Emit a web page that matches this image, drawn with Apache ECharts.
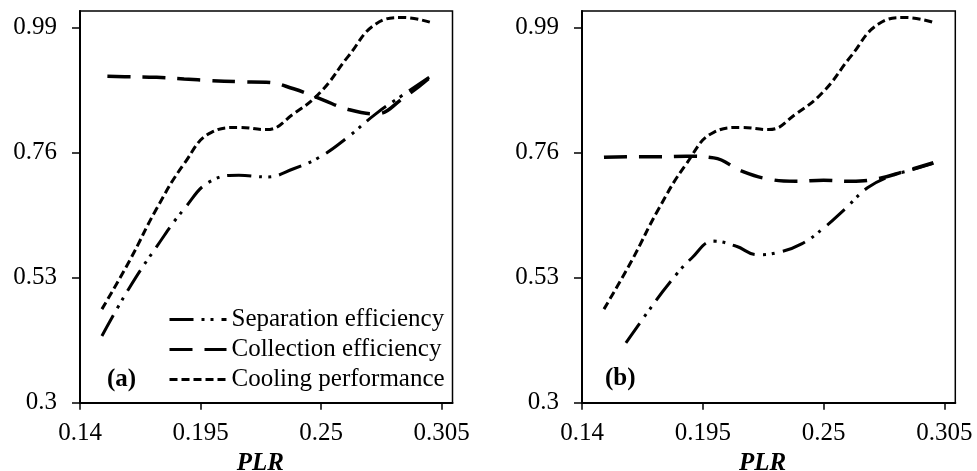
<!DOCTYPE html>
<html>
<head>
<meta charset="utf-8">
<script src="https://cdn.jsdelivr.net/npm/echarts@6/dist/echarts.min.js"></script>
<style>
  html, body { margin: 0; padding: 0; background: #fff; }
  #chart { width: 977px; height: 471px; }
</style>
</head>
<body>
<div id="chart"></div>
<script>
// Part-load-ratio sample points
const plrA = [0.15, 0.1625, 0.175, 0.1875, 0.2, 0.2125, 0.225, 0.2375, 0.25, 0.2625, 0.275, 0.2875, 0.3];
const plrCollA = [0.1525, 0.1625, 0.175, 0.1875, 0.2, 0.2125, 0.225, 0.2375, 0.25, 0.2625, 0.275, 0.2875, 0.3];
const plrSepB = [0.16, 0.17, 0.18, 0.19, 0.2, 0.21, 0.22, 0.23, 0.24, 0.25, 0.26, 0.27, 0.28, 0.29, 0.3];

// Panel (a)
const separationA = [0.4225, 0.511, 0.587, 0.656, 0.708, 0.718, 0.715, 0.730, 0.753, 0.789, 0.831, 0.866, 0.900];
const collectionA = [0.900, 0.899, 0.898, 0.895, 0.892, 0.890, 0.889, 0.877, 0.858, 0.839, 0.831, 0.860, 0.899];
const coolingA    = [0.472, 0.560, 0.657, 0.739, 0.797, 0.806, 0.802, 0.831, 0.872, 0.937, 0.996, 1.008, 0.999];

// Panel (b)
const separationB = [0.41, 0.467, 0.521, 0.566, 0.597, 0.588, 0.572, 0.577, 0.592, 0.621, 0.657, 0.695, 0.716, 0.728, 0.74];
const collectionB = [0.751, 0.752, 0.752, 0.753, 0.750, 0.726, 0.711, 0.707, 0.709, 0.707, 0.712, 0.726, 0.741];
const coolingB    = [0.472, 0.560, 0.657, 0.739, 0.797, 0.806, 0.802, 0.831, 0.872, 0.937, 0.996, 1.008, 0.999];

// Axis ticks
const xTicks = [0.14, 0.195, 0.25, 0.305];
const yTicks = [0.3, 0.53, 0.76, 0.99];

const seriesNames = ['Separation efficiency', 'Collection efficiency', 'Cooling performance'];

const FONT = '"Liberation Serif", "Times New Roman", serif';

const pair = (xs, ys) => xs.map((x, i) => [x, ys[i]]);

const lineStyles = [
  { color: '#000', width: 3, type: [24, 8, 3, 6, 3, 8], cap: 'butt' },
  { color: '#000', width: 3.5, type: [23, 12], cap: 'butt' },
  { color: '#000', width: 3, type: [8, 4], cap: 'butt' }
];

function xAxisFor(gridIndex) {
  return {
    type: 'value', gridIndex,
    min: 0.14, max: 0.31,
    name: 'PLR', nameLocation: 'middle', nameGap: 44,
    nameTextStyle: { fontFamily: FONT, fontSize: 25, fontWeight: 'bold', fontStyle: 'italic', color: '#000', padding: [0, 12, 0, 0] },
    axisLine: { show: true, onZero: false, lineStyle: { color: '#000', width: 2 } },
    axisTick: { show: true, inside: false, length: 7, customValues: xTicks, lineStyle: { color: '#000', width: 1.5 } },
    axisLabel: { customValues: xTicks, margin: 18, fontFamily: FONT, fontSize: 25, color: '#000',
      formatter: v => String(+v.toFixed(3)) },
    splitLine: { show: false }
  };
}

function yAxisFor(gridIndex) {
  return {
    type: 'value', gridIndex,
    min: 0.3, max: 1.02,
    axisLine: { show: true, onZero: false, lineStyle: { color: '#000', width: 2 } },
    axisTick: { show: true, inside: false, length: 8, customValues: yTicks, lineStyle: { color: '#000', width: 1.5 } },
    axisLabel: { customValues: yTicks, margin: 23, fontFamily: FONT, fontSize: 25, color: '#000',
      formatter: v => String(+v.toFixed(2)) },
    splitLine: { show: false }
  };
}

function lineSeries(name, idx, gridIndex, data) {
  return {
    name, type: 'line', xAxisIndex: gridIndex, yAxisIndex: gridIndex,
    data, smooth: 0.45, symbol: 'none', showSymbol: false,
    lineStyle: lineStyles[idx], itemStyle: { color: '#000' },
    emphasis: { disabled: true }
  };
}

const gridBase = { top: 11, height: 391.7, show: true, borderColor: '#000', borderWidth: 1.5, containLabel: false, outerBoundsMode: 'none' };

const chart = echarts.init(document.getElementById('chart'), null, { renderer: 'canvas' });
chart.setOption({
  animation: false,
  backgroundColor: '#fff',
  grid: [
    Object.assign({ left: 80, width: 372.5 }, gridBase),
    Object.assign({ left: 582, width: 373.3 }, gridBase)
  ],
  xAxis: [xAxisFor(0), xAxisFor(1)],
  yAxis: [yAxisFor(0), yAxisFor(1)],
  legend: {
    data: seriesNames,
    orient: 'vertical',
    left: 163, top: 302,
    itemWidth: 57, itemHeight: 14, itemGap: 5,
    selectedMode: false,
    itemStyle: { opacity: 0 },
    lineStyle: { width: 3 },
    textStyle: { fontFamily: FONT, fontSize: 25, color: '#000' }
  },
  graphic: [
    { type: 'text', left: 107, top: 367, style: { text: '(a)', font: 'bold 25px ' + FONT, fill: '#000' } },
    { type: 'text', left: 605, top: 366, style: { text: '(b)', font: 'bold 25px ' + FONT, fill: '#000' } }
  ],
  series: [
    lineSeries(seriesNames[0], 0, 0, pair(plrA, separationA)),
    lineSeries(seriesNames[1], 1, 0, pair(plrCollA, collectionA)),
    lineSeries(seriesNames[2], 2, 0, pair(plrA, coolingA)),
    lineSeries(seriesNames[0], 0, 1, pair(plrSepB, separationB)),
    lineSeries(seriesNames[1], 1, 1, pair(plrA, collectionB)),
    lineSeries(seriesNames[2], 2, 1, pair(plrA, coolingB))
  ]
});
</script>
</body>
</html>
